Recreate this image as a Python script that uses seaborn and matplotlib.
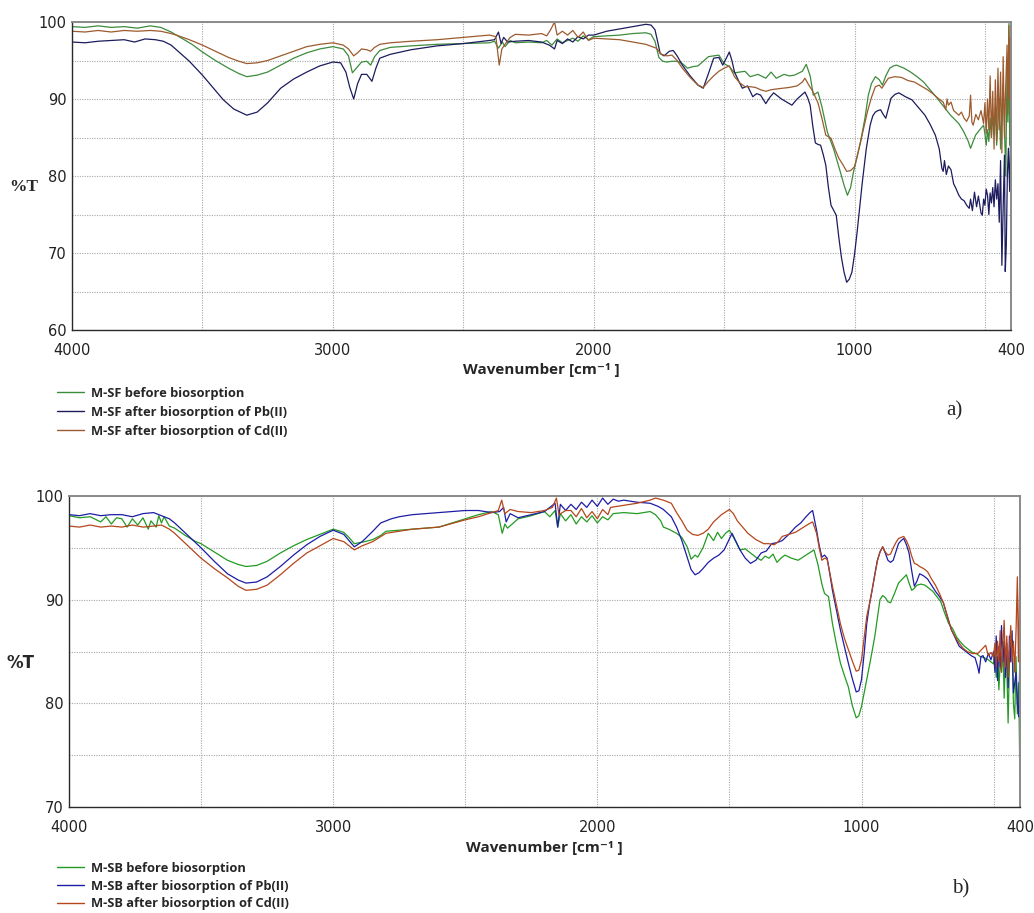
import numpy as np
import pandas as pd
import matplotlib
matplotlib.use("Agg")
import matplotlib.pyplot as plt
from matplotlib.lines import Line2D
from matplotlib.ticker import FixedLocator, NullFormatter
import seaborn as sns

# ---------------- FTIR spectra: (a) M-SF, (b) M-SB ----------------
sf_labels = ["M-SF before biosorption",
             "M-SF after biosorption of Pb(II)",
             "M-SF after biosorption of Cd(II)"]
sb_labels = ["M-SB before biosorption",
             "M-SB after biosorption of Pb(II)",
             "M-SB after biosorption of Cd(II)"]

sf_before = [
    (4000, 99.4), (3950, 99.3), (3900, 99.5), (3850, 99.3), (3800, 99.4), (3750, 99.2),
    (3700, 99.5), (3660, 99.3), (3620, 98.7), (3580, 97.9), (3540, 97.1), (3500, 96.1),
    (3450, 95.0), (3400, 94.0), (3360, 93.3), (3330, 92.9), (3290, 93.1), (3250, 93.5),
    (3200, 94.4), (3150, 95.3), (3100, 96.0), (3050, 96.5), (3000, 96.8), (2960, 96.5),
    (2940, 95.6), (2925, 93.4), (2910, 94.0), (2890, 94.8), (2870, 94.9), (2855, 94.4),
    (2840, 95.5), (2820, 96.3), (2780, 96.7), (2700, 96.9), (2600, 97.1), (2500, 97.2),
    (2400, 97.3), (2380, 97.5), (2365, 96.6), (2350, 97.4), (2340, 96.8), (2320, 97.6),
    (2300, 97.3), (2250, 97.4), (2200, 97.3), (2180, 97.6), (2160, 97.0), (2140, 97.8),
    (2120, 97.3), (2100, 97.6), (2080, 97.9), (2060, 97.5), (2040, 98.2), (2020, 97.7),
    (2000, 98.1), (1950, 98.2), (1900, 98.3), (1850, 98.5), (1800, 98.6), (1780, 98.4),
    (1765, 97.5), (1750, 95.4), (1735, 94.9), (1720, 94.8), (1700, 94.9), (1680, 94.9),
    (1660, 94.6), (1640, 94.0), (1620, 94.2), (1600, 94.3), (1580, 94.9), (1560, 95.5),
    (1540, 95.6), (1520, 95.7), (1500, 94.6), (1480, 94.2), (1460, 93.4), (1440, 93.5),
    (1420, 93.6), (1400, 92.9), (1380, 93.1), (1370, 93.2), (1340, 92.7), (1320, 93.5),
    (1300, 92.7), (1270, 93.2), (1250, 93.0), (1230, 93.1), (1200, 93.6), (1185, 94.5),
    (1170, 93.0), (1158, 90.5), (1140, 90.9), (1125, 89.0), (1104, 85.7), (1080, 83.5),
    (1054, 80.5), (1040, 78.8), (1027, 77.5), (1015, 78.5), (1004, 80.5), (990, 82.5),
    (977, 84.4), (960, 87.5), (947, 90.5), (935, 92.0), (920, 92.9), (905, 92.5),
    (893, 91.8), (880, 93.0), (865, 94.0), (850, 94.3), (839, 94.4), (810, 94.0),
    (785, 93.5), (760, 92.9), (735, 92.2), (710, 91.2), (683, 90.1), (660, 89.1),
    (632, 87.9), (600, 86.8), (582, 85.8), (565, 84.6), (555, 83.6), (545, 84.5),
    (536, 85.3), (520, 86.0), (505, 86.6), (500, 85.5), (495, 84.0), (490, 86.0),
    (485, 84.5), (480, 87.5), (475, 85.0), (470, 88.0), (465, 85.5), (460, 89.0),
    (455, 84.0), (450, 87.0), (445, 90.0), (440, 83.5), (435, 88.5), (430, 92.0),
    (425, 86.0), (420, 80.0), (415, 95.0), (412, 87.0), (408, 99.8), (405, 84.0),
    (402, 97.0), (400, 88.0),
]

sf_pb = [
    (4000, 97.4), (3950, 97.3), (3900, 97.5), (3850, 97.6), (3800, 97.7), (3760, 97.4),
    (3720, 97.8), (3680, 97.7), (3650, 97.5), (3620, 97.0), (3600, 96.4), (3550, 94.9),
    (3500, 93.1), (3460, 91.5), (3420, 89.9), (3380, 88.7), (3330, 87.9), (3290, 88.3),
    (3250, 89.5), (3200, 91.4), (3150, 92.6), (3100, 93.5), (3050, 94.3), (3000, 94.8),
    (2970, 94.7), (2950, 93.5), (2935, 91.5), (2920, 90.0), (2905, 92.0), (2890, 93.2),
    (2870, 93.2), (2850, 92.3), (2835, 94.0), (2820, 95.3), (2780, 95.8), (2700, 96.4),
    (2600, 96.9), (2500, 97.2), (2400, 97.6), (2380, 97.7), (2365, 98.7), (2355, 97.2),
    (2345, 98.0), (2330, 97.4), (2300, 97.5), (2250, 97.6), (2200, 97.4), (2170, 97.0),
    (2150, 96.5), (2140, 97.6), (2120, 97.2), (2100, 97.8), (2080, 97.4), (2060, 98.1),
    (2040, 97.8), (2020, 98.3), (2000, 98.3), (1950, 98.8), (1900, 99.1), (1850, 99.4),
    (1800, 99.7), (1780, 99.6), (1765, 99.0), (1755, 97.5), (1745, 95.9), (1730, 95.6),
    (1710, 96.2), (1695, 96.3), (1680, 95.6), (1660, 94.4), (1630, 93.0), (1600, 91.8),
    (1580, 91.4), (1560, 93.3), (1540, 95.3), (1520, 95.4), (1505, 94.4), (1490, 95.4),
    (1480, 96.1), (1470, 95.0), (1460, 93.5), (1445, 92.4), (1430, 91.4), (1410, 91.7),
    (1390, 90.3), (1375, 90.7), (1360, 90.5), (1340, 89.4), (1325, 90.2), (1310, 90.8),
    (1295, 90.4), (1280, 90.0), (1260, 89.6), (1240, 89.2), (1220, 90.0), (1200, 90.6),
    (1190, 90.9), (1180, 90.2), (1170, 89.2), (1160, 86.5), (1150, 84.3), (1140, 84.1),
    (1130, 84.0), (1120, 82.8), (1110, 81.4), (1100, 78.5), (1090, 76.2), (1070, 74.9),
    (1060, 72.0), (1050, 69.4), (1040, 67.5), (1030, 66.2), (1020, 66.6), (1010, 67.5),
    (1000, 69.8), (990, 72.7), (980, 76.0), (970, 79.2), (955, 83.5), (940, 86.6),
    (930, 87.8), (920, 88.3), (910, 88.5), (900, 88.6), (890, 88.0), (880, 87.5),
    (870, 88.8), (860, 90.1), (845, 90.6), (830, 90.8), (805, 90.3), (780, 89.9),
    (755, 88.9), (730, 87.9), (710, 86.7), (690, 85.3), (675, 83.5), (665, 81.0),
    (660, 80.6), (655, 82.0), (648, 80.2), (640, 81.3), (630, 80.8), (620, 79.0),
    (610, 78.3), (600, 77.5), (590, 77.0), (580, 76.8), (570, 76.2), (560, 75.8),
    (555, 77.0), (548, 75.5), (540, 77.9), (532, 76.0), (525, 77.4), (515, 75.2),
    (510, 74.9), (505, 77.0), (500, 76.2), (495, 78.3), (490, 77.5), (485, 75.0),
    (480, 77.8), (475, 76.5), (470, 78.5), (465, 76.0), (460, 79.5), (455, 77.0),
    (450, 79.0), (445, 74.0), (440, 82.0), (435, 68.4), (430, 76.0), (425, 82.7),
    (422, 67.6), (418, 71.0), (414, 80.0), (410, 83.6), (405, 78.0), (400, 88.3),
]

sf_cd = [
    (4000, 98.8), (3950, 98.7), (3900, 98.9), (3850, 98.7), (3800, 98.9), (3750, 98.8),
    (3700, 98.9), (3660, 98.8), (3620, 98.5), (3600, 98.3), (3550, 97.7), (3500, 97.0),
    (3450, 96.2), (3400, 95.4), (3360, 94.9), (3330, 94.6), (3290, 94.7), (3250, 95.0),
    (3200, 95.6), (3150, 96.2), (3100, 96.8), (3050, 97.1), (3000, 97.3), (2960, 97.0),
    (2940, 96.5), (2920, 95.6), (2905, 96.0), (2890, 96.5), (2870, 96.4), (2855, 96.2),
    (2840, 96.7), (2820, 97.1), (2780, 97.3), (2700, 97.5), (2600, 97.7), (2500, 98.0),
    (2400, 98.3), (2375, 98.1), (2362, 94.4), (2352, 96.5), (2340, 97.1), (2320, 98.0),
    (2300, 98.4), (2250, 98.3), (2200, 98.5), (2180, 98.2), (2165, 99.0), (2150, 100.0),
    (2140, 98.3), (2120, 98.8), (2100, 98.3), (2080, 98.9), (2060, 98.0), (2040, 98.7),
    (2020, 97.6), (2000, 97.9), (1950, 97.8), (1900, 97.7), (1850, 97.4), (1800, 97.1),
    (1760, 96.6), (1740, 95.8), (1720, 95.6), (1700, 95.7), (1680, 95.0), (1660, 94.0),
    (1630, 92.8), (1600, 91.8), (1580, 91.5), (1560, 92.3), (1540, 93.0), (1520, 93.6),
    (1500, 94.0), (1480, 94.3), (1460, 92.9), (1440, 92.1), (1420, 91.6), (1400, 91.6),
    (1380, 91.5), (1360, 91.2), (1340, 91.0), (1320, 91.2), (1300, 91.3), (1250, 91.5),
    (1220, 91.7), (1200, 92.2), (1190, 92.7), (1175, 91.8), (1160, 91.0), (1140, 89.5),
    (1125, 87.5), (1110, 85.3), (1090, 84.9), (1075, 83.5), (1060, 82.3), (1045, 81.5),
    (1030, 80.6), (1015, 80.7), (1000, 81.2), (990, 82.5), (980, 84.0), (965, 86.2),
    (950, 88.4), (935, 90.2), (920, 91.6), (905, 91.8), (895, 91.4), (880, 92.2),
    (870, 92.7), (845, 92.9), (820, 92.8), (795, 92.4), (770, 92.2), (745, 91.7),
    (720, 91.2), (700, 90.7), (680, 90.1), (660, 89.6), (650, 88.6), (645, 90.0),
    (640, 89.2), (630, 89.6), (620, 88.5), (610, 88.2), (600, 87.9), (590, 88.3),
    (580, 87.5), (570, 87.1), (560, 87.8), (555, 90.5), (550, 87.0), (545, 86.6),
    (535, 88.0), (525, 87.3), (515, 88.5), (505, 86.8), (500, 89.5), (495, 85.5),
    (490, 90.0), (485, 86.0), (480, 93.0), (475, 85.0), (470, 91.0), (465, 83.5),
    (460, 92.5), (455, 84.5), (450, 94.0), (445, 86.0), (440, 93.5), (435, 83.0),
    (430, 95.5), (425, 85.0), (420, 92.0), (415, 97.0), (412, 88.0), (408, 99.5),
    (405, 90.0), (402, 98.0), (400, 91.0),
]

sb_before = [
    (4000, 98.1), (3960, 97.9), (3920, 98.0), (3880, 97.5), (3860, 98.0), (3840, 97.3),
    (3820, 97.9), (3800, 97.8), (3780, 97.0), (3760, 97.8), (3740, 97.2), (3720, 97.9),
    (3700, 96.8), (3690, 97.6), (3670, 97.0), (3660, 98.1), (3650, 97.4), (3640, 98.0),
    (3620, 97.1), (3600, 96.9), (3560, 96.2), (3520, 95.6), (3500, 95.4), (3450, 94.6),
    (3400, 93.8), (3360, 93.4), (3330, 93.2), (3290, 93.3), (3250, 93.7), (3200, 94.5),
    (3150, 95.2), (3100, 95.8), (3050, 96.3), (3000, 96.8), (2960, 96.5), (2940, 96.0),
    (2920, 95.4), (2880, 95.6), (2850, 95.8), (2820, 96.2), (2800, 96.6), (2700, 96.8),
    (2600, 97.0), (2500, 97.8), (2450, 98.2), (2400, 98.5), (2375, 98.2), (2360, 96.4),
    (2350, 97.3), (2340, 96.9), (2300, 97.8), (2250, 98.1), (2200, 98.5), (2180, 98.0),
    (2160, 98.6), (2150, 97.0), (2140, 98.3), (2120, 97.6), (2100, 98.2), (2080, 97.3),
    (2060, 98.0), (2040, 97.5), (2020, 98.1), (2000, 97.4), (1980, 98.0), (1960, 97.7),
    (1940, 98.3), (1900, 98.4), (1850, 98.3), (1800, 98.5), (1780, 98.2), (1760, 97.6),
    (1750, 97.0), (1730, 96.8), (1700, 96.4), (1680, 96.0), (1660, 95.1), (1645, 93.9),
    (1630, 94.3), (1620, 94.1), (1600, 95.0), (1580, 96.4), (1560, 95.7), (1545, 96.5),
    (1530, 95.9), (1515, 96.4), (1500, 96.7), (1480, 95.8), (1460, 94.8), (1440, 94.9),
    (1420, 94.5), (1400, 94.1), (1380, 93.8), (1365, 94.2), (1350, 94.0), (1335, 94.4),
    (1320, 93.6), (1305, 94.0), (1290, 94.3), (1265, 94.0), (1240, 93.8), (1210, 94.3),
    (1180, 94.8), (1165, 93.4), (1150, 91.5), (1140, 90.6), (1125, 90.3), (1110, 87.7),
    (1095, 85.7), (1080, 83.9), (1065, 82.7), (1050, 81.6), (1035, 79.8), (1020, 78.6),
    (1010, 78.8), (1000, 79.7), (990, 81.0), (980, 82.3), (965, 84.3), (950, 86.4),
    (940, 88.2), (930, 90.0), (920, 90.4), (910, 90.2), (900, 89.8), (890, 89.7),
    (875, 90.6), (860, 91.6), (845, 92.0), (830, 92.4), (820, 91.6), (810, 90.9),
    (800, 91.1), (790, 91.4), (775, 91.5), (760, 91.4), (745, 91.1), (730, 90.8),
    (715, 90.3), (700, 89.8), (685, 88.7), (670, 87.7), (655, 87.2), (640, 86.4),
    (625, 85.9), (610, 85.5), (595, 85.2), (580, 84.9), (565, 84.8), (550, 84.5),
    (535, 84.4), (520, 84.2), (510, 84.0), (500, 83.8), (495, 85.0), (490, 82.5),
    (485, 84.5), (480, 81.3), (475, 84.0), (470, 83.0), (465, 86.0), (460, 80.5),
    (455, 84.5), (450, 83.5), (445, 78.1), (440, 84.0), (435, 86.5), (430, 86.0),
    (425, 80.0), (420, 78.5), (415, 84.5), (410, 79.0), (405, 82.0), (402, 76.0),
    (400, 71.0),
]

sb_pb = [
    (4000, 98.2), (3960, 98.1), (3920, 98.3), (3880, 98.1), (3840, 98.2), (3800, 98.2),
    (3760, 98.0), (3720, 98.3), (3680, 98.4), (3650, 98.1), (3620, 97.8), (3600, 97.4),
    (3550, 96.2), (3500, 95.0), (3450, 93.7), (3400, 92.5), (3360, 91.9), (3330, 91.6),
    (3290, 91.7), (3250, 92.2), (3200, 93.2), (3150, 94.3), (3100, 95.3), (3050, 96.1),
    (3000, 96.7), (2960, 96.3), (2940, 95.7), (2920, 95.1), (2890, 95.6), (2850, 96.6),
    (2820, 97.4), (2780, 97.8), (2750, 98.0), (2700, 98.2), (2600, 98.4), (2500, 98.6),
    (2450, 98.6), (2400, 98.4), (2370, 98.5), (2355, 98.9), (2345, 97.5), (2330, 98.3),
    (2300, 97.9), (2250, 98.2), (2200, 98.5), (2180, 98.9), (2160, 99.3), (2150, 97.0),
    (2140, 99.2), (2120, 98.6), (2100, 99.2), (2080, 98.7), (2060, 99.4), (2040, 98.9),
    (2020, 99.6), (2000, 99.0), (1980, 99.8), (1960, 99.2), (1940, 99.7), (1920, 99.5),
    (1900, 99.6), (1850, 99.4), (1800, 99.3), (1770, 99.0), (1750, 98.7), (1720, 98.0),
    (1700, 97.0), (1680, 95.7), (1660, 94.1), (1645, 92.9), (1630, 92.4), (1615, 92.6),
    (1600, 93.0), (1580, 93.6), (1560, 94.0), (1540, 94.3), (1520, 94.8), (1505, 95.6),
    (1490, 96.4), (1475, 95.6), (1460, 94.8), (1440, 94.0), (1420, 93.5), (1400, 93.8),
    (1380, 94.5), (1360, 94.7), (1340, 95.4), (1320, 95.5), (1300, 95.7), (1275, 96.3),
    (1250, 97.0), (1230, 97.4), (1210, 98.0), (1195, 98.4), (1185, 98.6), (1170, 96.7),
    (1160, 95.2), (1150, 94.1), (1140, 94.3), (1130, 94.0), (1120, 92.5), (1110, 90.9),
    (1095, 89.0), (1080, 87.1), (1065, 85.5), (1050, 83.9), (1035, 82.4), (1020, 81.1),
    (1010, 81.2), (1000, 82.3), (990, 84.8), (980, 87.7), (970, 89.5), (960, 90.9),
    (950, 92.4), (940, 93.8), (930, 94.6), (920, 95.1), (910, 94.5), (900, 93.8),
    (890, 93.6), (880, 93.8), (870, 94.6), (860, 95.4), (850, 95.7), (840, 95.9),
    (830, 95.3), (820, 94.5), (810, 92.8), (800, 91.3), (790, 91.8), (780, 92.5),
    (765, 92.3), (750, 92.0), (735, 91.4), (720, 90.8), (705, 90.3), (690, 89.7),
    (675, 88.4), (660, 87.1), (645, 86.3), (630, 85.5), (615, 85.2), (600, 84.9),
    (585, 84.6), (570, 84.4), (560, 83.5), (555, 82.9), (548, 84.5), (540, 84.6),
    (530, 84.0), (520, 84.8), (510, 84.2), (500, 85.0), (495, 83.0), (490, 86.5),
    (485, 82.2), (480, 85.5), (475, 83.5), (470, 87.5), (465, 84.0), (460, 86.0),
    (455, 82.5), (450, 85.8), (445, 81.5), (440, 86.5), (435, 84.0), (430, 87.0),
    (425, 81.0), (420, 82.0), (415, 83.0), (410, 80.0), (405, 78.7), (400, 85.0),
]

sb_cd = [
    (4000, 97.1), (3960, 97.0), (3920, 97.2), (3880, 97.0), (3840, 97.1), (3800, 97.0),
    (3760, 97.2), (3720, 97.0), (3680, 97.1), (3650, 97.2), (3620, 96.8), (3600, 96.4),
    (3550, 95.2), (3500, 94.0), (3450, 93.0), (3400, 92.1), (3360, 91.3), (3330, 90.9),
    (3290, 91.0), (3250, 91.4), (3200, 92.4), (3150, 93.5), (3100, 94.5), (3050, 95.2),
    (3000, 95.9), (2960, 95.6), (2940, 95.2), (2920, 94.8), (2890, 95.2), (2850, 95.6),
    (2800, 96.4), (2700, 96.8), (2600, 97.0), (2500, 97.7), (2450, 98.0), (2400, 98.4),
    (2375, 98.6), (2362, 99.6), (2350, 98.3), (2330, 98.7), (2300, 98.5), (2250, 98.4),
    (2200, 98.6), (2170, 98.9), (2155, 99.8), (2145, 98.2), (2120, 98.6), (2100, 98.6),
    (2080, 98.0), (2060, 98.8), (2040, 97.9), (2020, 98.5), (2000, 97.8), (1980, 98.7),
    (1960, 98.2), (1950, 98.9), (1900, 99.1), (1850, 99.3), (1800, 99.6), (1780, 99.8),
    (1750, 99.6), (1720, 99.3), (1700, 98.4), (1680, 97.6), (1660, 96.7), (1640, 96.3),
    (1620, 96.2), (1600, 96.4), (1580, 96.8), (1560, 97.5), (1530, 98.2), (1500, 98.7),
    (1485, 98.3), (1470, 97.6), (1450, 97.0), (1430, 96.4), (1400, 95.8), (1370, 95.4),
    (1350, 95.4), (1330, 95.3), (1315, 95.6), (1300, 96.1), (1275, 96.3), (1250, 96.5),
    (1225, 96.9), (1200, 97.3), (1185, 97.5), (1170, 96.4), (1160, 95.0), (1150, 93.8),
    (1140, 94.0), (1130, 93.9), (1120, 92.6), (1110, 91.3), (1095, 89.5), (1080, 87.7),
    (1065, 86.3), (1050, 85.2), (1035, 84.1), (1020, 83.1), (1010, 83.2), (1000, 84.2),
    (990, 86.3), (980, 88.4), (970, 89.6), (960, 90.9), (950, 92.3), (940, 93.7),
    (930, 94.6), (920, 95.1), (910, 94.6), (900, 94.3), (890, 94.4), (880, 95.0),
    (870, 95.5), (860, 95.9), (850, 96.0), (840, 96.1), (830, 95.7), (820, 95.1),
    (810, 94.2), (800, 93.5), (790, 93.4), (780, 93.2), (765, 93.0), (750, 92.7),
    (735, 92.0), (720, 91.4), (705, 90.6), (690, 89.7), (675, 88.4), (660, 87.1),
    (645, 86.4), (630, 85.8), (615, 85.3), (600, 85.0), (580, 84.8), (560, 84.8),
    (545, 85.2), (530, 85.6), (520, 84.6), (510, 84.9), (500, 84.5), (495, 85.8),
    (490, 83.5), (485, 86.0), (480, 84.0), (475, 87.0), (470, 83.0), (465, 85.5),
    (460, 88.0), (455, 83.5), (450, 86.5), (445, 82.5), (440, 85.0), (435, 87.5),
    (430, 84.0), (425, 86.0), (420, 83.0), (415, 87.0), (410, 92.2), (406, 84.0),
    (403, 88.0), (400, 94.6),
]

sf_colors = ["#3d8b3d", "#1c1c5e", "#9c5b2e"]
sb_colors = ["#239b23", "#1d1da6", "#b4471c"]


def long_frame(series, labels):
    parts = []
    for pts, name in zip(series, labels):
        arr = np.asarray(pts, dtype=float)
        parts.append(pd.DataFrame({"Wavenumber": arr[:, 0],
                                   "T": arr[:, 1],
                                   "Sample": name}))
    return pd.concat(parts, ignore_index=True)


sns.set_style("white")
plt.rcParams["font.family"] = ["DejaVu Sans"]

W, H = 1034, 913
fig = plt.figure(figsize=(W / 100, H / 100), dpi=100)


def px_axes(left, top, right, bottom):
    return fig.add_axes([left / W, 1 - bottom / H, (right - left) / W, (bottom - top) / H])


ax_a = px_axes(72, 22, 1011, 330)
ax_b = px_axes(69, 496, 1020, 807)

panels = [
    (ax_a, long_frame([sf_before, sf_pb, sf_cd], sf_labels), sf_labels, sf_colors,
     (60, 100), [60, 70, 80, 90, 100], [65, 75, 85, 95]),
    (ax_b, long_frame([sb_before, sb_pb, sb_cd], sb_labels), sb_labels, sb_colors,
     (70, 100), [70, 80, 90, 100], [75, 85, 95]),
]

for ax, df, labels, colors, ylim, yticks, yminor in panels:
    sns.lineplot(data=df, x="Wavenumber", y="T", hue="Sample",
                 palette=dict(zip(labels, colors)), estimator=None,
                 linewidth=0.9, legend=False, ax=ax)
    ax.set_xlim(4000, 400)
    ax.set_ylim(*ylim)
    ax.xaxis.set_major_locator(FixedLocator([4000, 3000, 2000, 1000, 400]))
    ax.xaxis.set_minor_locator(FixedLocator([3500, 2500, 1500, 500]))
    ax.xaxis.set_minor_formatter(NullFormatter())
    ax.yaxis.set_major_locator(FixedLocator(yticks))
    ax.yaxis.set_minor_locator(FixedLocator(yminor))
    ax.grid(True, which="both", linestyle=(0, (1, 1.2)), color="#a8a8a8", linewidth=0.8)
    ax.tick_params(axis="x", which="both", direction="inout", length=4, pad=7,
                   labelsize=10.5, colors="#222222")
    ax.tick_params(axis="y", which="both", direction="in", length=0, pad=4,
                   labelsize=10.5, colors="#222222")
    for side in ("left", "bottom"):
        ax.spines[side].set_color("#2a2a2a")
        ax.spines[side].set_linewidth(1.0)
    for side in ("top", "right"):
        ax.spines[side].set_color("#8a8a8a")
        ax.spines[side].set_linewidth(1.4)

    ax.set_xlabel("Wavenumber [cm\u207b\u00b9 ]", fontsize=11, fontweight="bold",
                  family=["Open Sans", "DejaVu Sans"])
    ax.xaxis.set_label_coords(0.5, -0.108)

# y-axis titles
ax_a.set_ylabel("%T", rotation=0, fontsize=12.5, fontweight="bold",
                family=["Liberation Serif"], ha="center", va="center")
ax_a.yaxis.set_label_coords(-0.051, 0.464)
ax_b.set_ylabel("%T", rotation=0, fontsize=12, fontweight="bold",
                family=["DejaVu Sans"], ha="center", va="center")
ax_b.yaxis.set_label_coords(-0.0505, 0.463)

# legends below each panel
for labels, colors, top_px, spacing in ((sf_labels, sf_colors, 387, 0.45),
                                        (sb_labels, sb_colors, 862, 0.36)):
    handles = [Line2D([0], [0], color=c, lw=1.0) for c in colors]
    fig.legend(handles, labels, loc="upper left",
               bbox_to_anchor=(57 / W, 1 - top_px / H), frameon=False,
               borderpad=0, borderaxespad=0, handlelength=2.1,
               handletextpad=0.55, labelspacing=spacing,
               prop={"family": ["Open Sans", "DejaVu Sans"], "weight": "bold", "size": 9.3})

# panel letters
fig.text(954 / W, 1 - 411 / H, "a)", family=["Liberation Serif"], fontsize=15,
         ha="center", va="center")
fig.text(961 / W, 1 - 889 / H, "b)", family=["Liberation Serif"], fontsize=15,
         ha="center", va="center")

fig.savefig("out.png", dpi=100)
